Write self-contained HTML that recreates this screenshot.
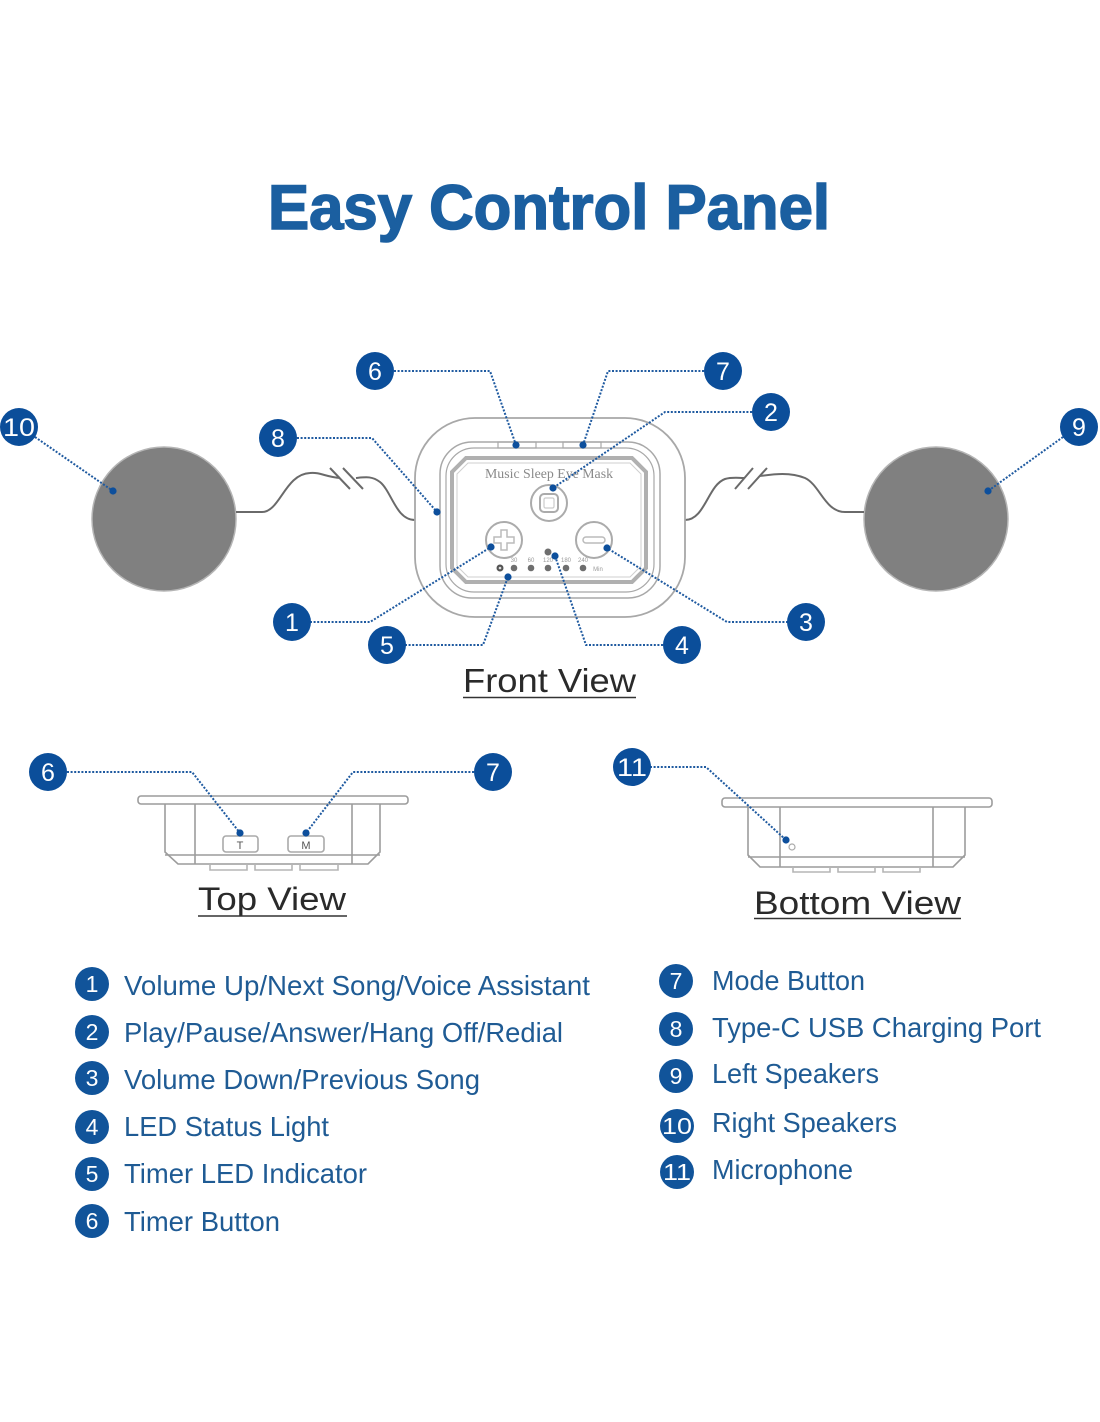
<!DOCTYPE html>
<html><head><meta charset="utf-8"><style>
html,body{margin:0;padding:0;background:#fff;}
svg{display:block;}
</style></head><body>
<svg width="1100" height="1422" viewBox="0 0 1100 1422" xmlns="http://www.w3.org/2000/svg" font-family="'Liberation Sans', Arial, sans-serif">
<rect x="0" y="0" width="1100" height="1422" fill="#fff"/>
<!-- Title -->
<text x="268" y="229" font-size="63" font-weight="bold" fill="#1b5fa0" stroke="#1b5fa0" stroke-width="1.6" textLength="562" lengthAdjust="spacingAndGlyphs">Easy Control Panel</text>

<!-- Speakers -->
<circle cx="164" cy="519" r="72" fill="#808080" stroke="#b5b5b5" stroke-width="1.5"/>
<circle cx="936" cy="519" r="72" fill="#808080" stroke="#b5b5b5" stroke-width="1.5"/>

<!-- Cables -->
<g fill="none" stroke="#6a6a6a" stroke-width="2">
<path d="M236,512 L262,512 C280,512 285,474 310,473 C320,472 326,477 340,478"/>
<path d="M356,478 C366,477 372,476 380,482 C392,492 396,520 415,520"/>
<path d="M330,468 L350,489 M343,468 L363,489"/>
<path d="M685,520 C705,520 708,485 725,479 C732,477 738,478 744,478"/>
<path d="M760,476 C775,474 790,472 805,478 C820,485 825,512 845,512 L864,512"/>
<path d="M735,489 L753,468 M748,489 L767,468"/>
</g>

<!-- Front device -->
<g fill="none" stroke="#a8a8a8">
<rect x="415" y="418" width="270" height="199" rx="60" stroke-width="1.8"/>
<rect x="440" y="442" width="220" height="156" rx="32" stroke-width="1.5"/>
<rect x="446" y="448" width="208" height="144" rx="28" stroke-width="1.2"/>
<path d="M466,458 H632 L646,472 V568 L632,582 H466 L452,568 V472 Z" stroke-width="4" stroke="#b0b0b0"/>
<path d="M468,463 H630 L641,474 V566 L630,577 H468 L457,566 V474 Z" stroke-width="1" stroke="#cfcfcf"/>
<rect x="498" y="442" width="38" height="6" stroke-width="1.2"/>
<rect x="563" y="442" width="38" height="6" stroke-width="1.2"/>
</g>
<text x="549" y="478" font-family="'Liberation Serif', serif" font-size="14" fill="#8a8a8a" text-anchor="middle" textLength="128" lengthAdjust="spacingAndGlyphs">Music Sleep Eye Mask</text>
<!-- play button -->
<circle cx="549" cy="503" r="18" fill="#fff" stroke="#ababab" stroke-width="2"/>
<rect x="540" y="494" width="18" height="18" rx="4" fill="none" stroke="#ababab" stroke-width="2"/>
<rect x="544" y="498" width="10" height="10" rx="1.5" fill="none" stroke="#cccccc" stroke-width="1.2"/>
<!-- plus -->
<circle cx="504" cy="540" r="18" fill="#fff" stroke="#ababab" stroke-width="2"/>
<path d="M501,530 H507 V537 H514 V543 H507 V550 H501 V543 H494 V537 H501 Z" fill="none" stroke="#bbbbbb" stroke-width="1.5"/>
<!-- minus -->
<circle cx="594" cy="540" r="18" fill="#fff" stroke="#ababab" stroke-width="2"/>
<rect x="583" y="537" width="22" height="6" rx="3" fill="none" stroke="#bbbbbb" stroke-width="1.5"/>
<!-- LEDs -->
<circle cx="548" cy="552" r="3.5" fill="#6e6e6e"/>
<circle cx="500" cy="568" r="3.5" fill="#555"/>
<circle cx="500" cy="568" r="1.3" fill="#ddd"/>
<circle cx="514" cy="568" r="3.3" fill="#6e6e6e"/>
<circle cx="531" cy="568" r="3.3" fill="#6e6e6e"/>
<circle cx="548" cy="568" r="3.3" fill="#6e6e6e"/>
<circle cx="566" cy="568" r="3.3" fill="#6e6e6e"/>
<circle cx="583" cy="568" r="3.3" fill="#6e6e6e"/>
<g font-size="6" fill="#999" text-anchor="middle">
<text x="514" y="562">30</text><text x="531" y="562">60</text><text x="548" y="562">120</text><text x="566" y="562">180</text><text x="583" y="562">240</text>
<text x="598" y="571">Min</text>
</g>

<!-- Top view device -->
<g fill="none" stroke="#9c9c9c" stroke-width="1.6">
<rect x="138" y="796" width="270" height="8" rx="3"/>
<path d="M165,804 V852 L178,864 H368 L380,852 V804"/>
<path d="M165,855 H380"/>
<path d="M195,804 V864 M352,804 V864"/>
<path d="M210,864 V870 H247 V864 M255,864 V870 H292 V864 M300,864 V870 H338 V864" stroke="#b5b5b5"/>
<rect x="223" y="836" width="35" height="16" rx="3" stroke="#aaa"/>
<rect x="288" y="836" width="36" height="16" rx="3" stroke="#aaa"/>
</g>
<text x="240" y="849" font-size="11" fill="#555" text-anchor="middle">T</text>
<text x="306" y="849" font-size="11" fill="#555" text-anchor="middle">M</text>

<!-- Bottom view device -->
<g fill="none" stroke="#9c9c9c" stroke-width="1.6">
<rect x="722" y="798" width="270" height="9" rx="3"/>
<path d="M748,807 V855 L760,867 H953 L965,855 V807"/>
<path d="M748,857 H965"/>
<path d="M780,807 V867 M933,807 V867"/>
<path d="M793,867 V872 H830 V867 M838,867 V872 H875 V867 M883,867 V872 H920 V867" stroke="#b5b5b5"/>
<circle cx="792" cy="847" r="3" fill="#fff" stroke="#aaa" stroke-width="1.2"/>
</g>

<!-- Leader lines -->
<g fill="none" stroke="#1f5aa0" stroke-width="2" stroke-dasharray="2 1.6">
<path d="M394,371 H490 L516,445"/>
<path d="M704,371 H608 L583,445"/>
<path d="M752,412 H665 L553,488"/>
<path d="M297,438 H372 L437,512"/>
<path d="M35,437 L113,491"/>
<path d="M1063,437 L988,491"/>
<path d="M310,622 H370 L491,547"/>
<path d="M405,645 H483 L508,577"/>
<path d="M663,645 H586 L555,556"/>
<path d="M788,622 H727 L607,548"/>
<path d="M67,772 H192 L240,833"/>
<path d="M474,772 H353 L306,833"/>
<path d="M650,767 H706 L786,840"/>
</g>
<g fill="#0d4f9c">
<circle cx="516" cy="445" r="3.6"/><circle cx="583" cy="445" r="3.6"/>
<circle cx="553" cy="488" r="3.6"/><circle cx="437" cy="512" r="3.6"/>
<circle cx="113" cy="491" r="3.6"/><circle cx="988" cy="491" r="3.6"/>
<circle cx="491" cy="547" r="3.6"/><circle cx="508" cy="577" r="3.6"/>
<circle cx="555" cy="556" r="3.6"/><circle cx="607" cy="548" r="3.6"/>
<circle cx="240" cy="833" r="3.6"/><circle cx="306" cy="833" r="3.6"/>
<circle cx="786" cy="840" r="3.6"/>
</g>

<!-- Badges (diagram) -->
<g fill="#0b4e9a">
<circle cx="375" cy="371" r="19"/><circle cx="723" cy="371" r="19"/>
<circle cx="771" cy="412" r="19"/><circle cx="19" cy="427" r="19"/>
<circle cx="278" cy="438" r="19"/><circle cx="1079" cy="427" r="19"/>
<circle cx="292" cy="622" r="19"/><circle cx="387" cy="645" r="19"/>
<circle cx="682" cy="645" r="19"/><circle cx="806" cy="622" r="19"/>
<circle cx="48" cy="772" r="19"/><circle cx="493" cy="772" r="19"/>
<circle cx="632" cy="767" r="19"/>
</g>
<g fill="#fff" font-size="25" text-anchor="middle">
<text x="375" y="380">6</text><text x="723" y="380">7</text>
<text x="771" y="421">2</text>
<text x="19" y="436" textLength="32" lengthAdjust="spacingAndGlyphs">10</text>
<text x="278" y="447">8</text><text x="1079" y="436">9</text>
<text x="292" y="631">1</text><text x="387" y="654">5</text>
<text x="682" y="654">4</text><text x="806" y="631">3</text>
<text x="48" y="781">6</text><text x="493" y="781">7</text>
<text x="632" y="776" textLength="30" lengthAdjust="spacingAndGlyphs">11</text>
</g>

<!-- View labels -->
<g fill="#2a2a2a" font-size="33">
<text x="463" y="692" textLength="173" lengthAdjust="spacingAndGlyphs">Front View</text>
<text x="198" y="910" font-size="32" textLength="148" lengthAdjust="spacingAndGlyphs">Top View</text>
<text x="754" y="914" font-size="32" textLength="207" lengthAdjust="spacingAndGlyphs">Bottom View</text>
</g>
<g stroke="#333" stroke-width="1.6">
<line x1="463" y1="697.5" x2="636" y2="697.5"/>
<line x1="198" y1="916" x2="347" y2="916"/>
<line x1="754" y1="918.5" x2="961" y2="918.5"/>
</g>

<!-- Legend badges -->
<g fill="#11549a">
<circle cx="92" cy="984" r="17"/><circle cx="92" cy="1032" r="17"/>
<circle cx="92" cy="1078" r="17"/><circle cx="92" cy="1127" r="17"/>
<circle cx="92" cy="1174" r="17"/><circle cx="92" cy="1221" r="17"/>
<circle cx="676" cy="981" r="17"/><circle cx="676" cy="1029" r="17"/>
<circle cx="676" cy="1076" r="17"/><circle cx="677" cy="1126" r="17"/>
<circle cx="677" cy="1172" r="17"/>
</g>
<g fill="#fff" font-size="23" text-anchor="middle">
<text x="92" y="992">1</text><text x="92" y="1040">2</text>
<text x="92" y="1086">3</text><text x="92" y="1135">4</text>
<text x="92" y="1182">5</text><text x="92" y="1229">6</text>
<text x="676" y="989">7</text><text x="676" y="1037">8</text>
<text x="676" y="1084">9</text>
<text x="677" y="1134" textLength="30" lengthAdjust="spacingAndGlyphs">10</text>
<text x="677" y="1180" textLength="28" lengthAdjust="spacingAndGlyphs">11</text>
</g>
<g fill="#1f5b94" font-size="27.3">
<text x="124" y="995" textLength="466" lengthAdjust="spacingAndGlyphs">Volume Up/Next Song/Voice Assistant</text>
<text x="124" y="1042" textLength="439" lengthAdjust="spacingAndGlyphs">Play/Pause/Answer/Hang Off/Redial</text>
<text x="124" y="1089" textLength="356" lengthAdjust="spacingAndGlyphs">Volume Down/Previous Song</text>
<text x="124" y="1136" textLength="205" lengthAdjust="spacingAndGlyphs">LED Status Light</text>
<text x="124" y="1183" textLength="243" lengthAdjust="spacingAndGlyphs">Timer LED Indicator</text>
<text x="124" y="1231" textLength="156" lengthAdjust="spacingAndGlyphs">Timer Button</text>
<text x="712" y="990" textLength="153" lengthAdjust="spacingAndGlyphs">Mode Button</text>
<text x="712" y="1037" textLength="329" lengthAdjust="spacingAndGlyphs">Type-C USB Charging Port</text>
<text x="712" y="1083" textLength="167" lengthAdjust="spacingAndGlyphs">Left Speakers</text>
<text x="712" y="1132" textLength="185" lengthAdjust="spacingAndGlyphs">Right Speakers</text>
<text x="712" y="1179" textLength="141" lengthAdjust="spacingAndGlyphs">Microphone</text>
</g>
</svg>
</body></html>
